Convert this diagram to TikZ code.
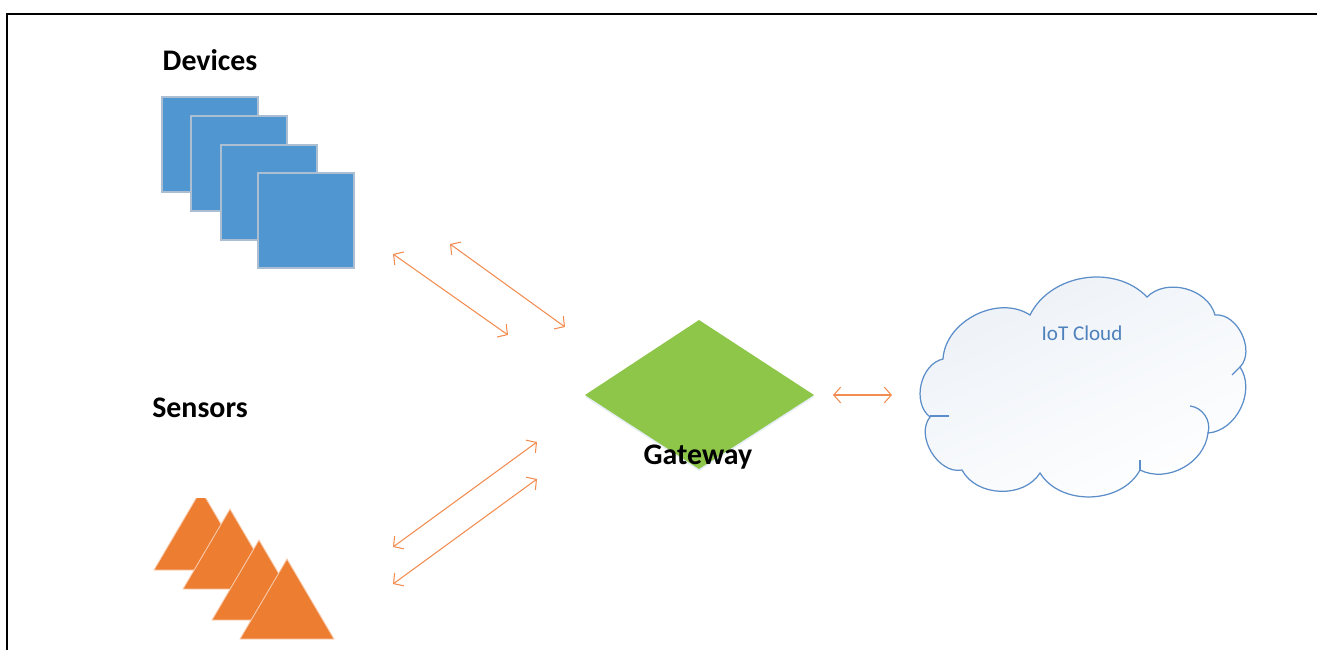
\documentclass[tikz,border=0pt]{standalone}
\usepackage{fontspec}
\setmainfont{Carlito}
\usetikzlibrary{arrows.meta}
\definecolor{devblue}{RGB}{80,150,208}
\definecolor{devedge}{RGB}{172,190,210}
\definecolor{senorange}{RGB}{237,125,49}
\definecolor{gwgreen}{RGB}{141,198,73}
\definecolor{linkorange}{RGB}{242,140,80}
\definecolor{cloudedge}{RGB}{91,141,200}
\definecolor{cloudfill}{RGB}{236,241,247}
\definecolor{cloudtext}{RGB}{79,129,189}
\tikzset{link/.style={draw=linkorange,line width=0.6pt,{Straight Barb[length=4pt,width=9pt]}-{Straight Barb[length=4pt,width=9pt]}}}
\tikzset{heading/.style={font=\bfseries\fontsize{17}{19}\selectfont}}
\tikzset{device/.style={fill=devblue,draw=devedge,line width=0.6pt}}
\tikzset{sensor/.style={fill=senorange,draw=senorange!40!white,line width=0.5pt}}

\begin{document}
\begin{tikzpicture}[x=0.02cm,y=-0.02cm]
\useasboundingbox (0,0) rectangle (1317,650);
\draw[line width=1.4pt] (1317,14) -- (7,14) -- (7,650);
% devices
\foreach \x/\y in {162/97,191/116,221/145,258/173}
  \filldraw[device] (\x,\y) rectangle ++(96,95);
% sensors
\begin{scope}
\clip (140,498) rectangle (260,600);
\filldraw[sensor] (154,570) -- ++(47,-80) -- ++(47,80) -- cycle;
\end{scope}
\foreach \x/\y in {183/589,212/620,240/639}
  \filldraw[sensor] (\x,\y) -- ++(47,-80) -- ++(47,80) -- cycle;
% gateway
\fill[cloudedge!15] (699,322) -- (814,397) -- (699,471) -- (585,397) -- cycle;
\fill[gwgreen] (699,320) -- (814,395) -- (699,469) -- (585,395) -- cycle;
% cloud
\path[draw=cloudedge,line width=0.7pt,top color=cloudfill,bottom color=white,shading angle=25]
  (943,359) to[bend left=60] (1030,315) to[bend left=55] (1147,297)
  to[bend left=60] (1215,315) to[bend left=70] (1240,367)
  to[bend left=60] (1208,433) to[bend left=55] (1140,470)
  to[bend left=60] (1040,473) to[bend left=60] (962,470)
  to[bend left=70] (930,417) to[bend left=65] (943,359) -- cycle;
\draw[cloudedge,line width=0.7pt] (1190,406) to[bend left=50] (1208,433);
\draw[cloudedge,line width=0.7pt] (1232,375) -- (1240,367);
\draw[cloudedge,line width=0.7pt] (1140,460) -- (1140,470);
\draw[cloudedge,line width=1.6pt] (930,416) -- (949,416);

\node[heading] (devices) at (210,60) {Devices};
\node[heading] (sensors) at (200,408) {Sensors};
\node[heading] (gateway) at (698,457) {Gateway};
\node[text=cloudtext,font=\fontsize{12}{14}\selectfont] (iotcloud) at (1082,333) {IoT Cloud};

\coordinate (d1) at (393,254); \coordinate (g1) at (508,335);
\coordinate (d2) at (450,244); \coordinate (g2) at (565,327);
\coordinate (g3) at (537,442); \coordinate (s1) at (393,547);
\coordinate (g4) at (537,479); \coordinate (s2) at (393,584);
\coordinate (g5) at (833,395); \coordinate (c1) at (892,395);
\draw[link] (d1) -- (g1);
\draw[link] (d2) -- (g2);
\draw[link] (g3) -- (s1);
\draw[link] (g4) -- (s2);
\draw[link] (g5) -- (c1);
\end{tikzpicture}
\end{document}
